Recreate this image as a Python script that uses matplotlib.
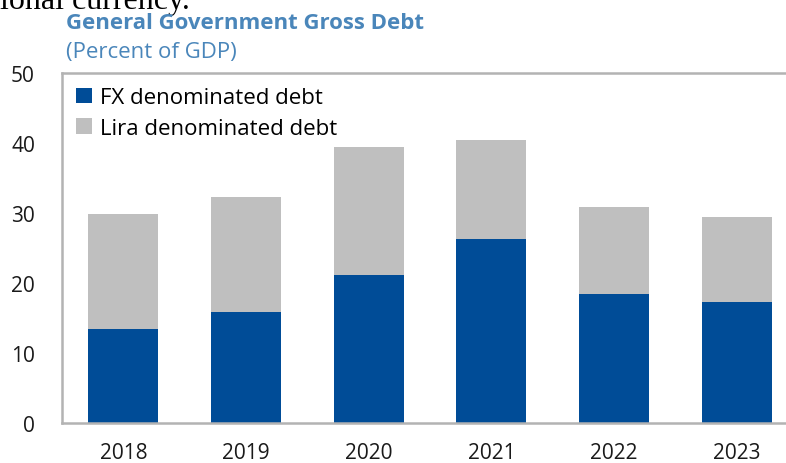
import matplotlib
matplotlib.use("Agg")
import matplotlib.pyplot as plt
import numpy as np

years = ["2018", "2019", "2020", "2021", "2022", "2023"]
fx_debt = [13.4, 15.9, 21.1, 26.3, 18.5, 17.3]
total_debt = [29.9, 32.3, 39.5, 40.4, 30.8, 29.5]
lira_debt = [t - f for t, f in zip(total_debt, fx_debt)]
yticks = [0, 10, 20, 30, 40, 50]

BLUE = "#004C97"
GREY = "#BFBFBF"
TITLE_C = "#4A86BA"
FONT = "Open Sans"

W, H = 786, 464
fig = plt.figure(figsize=(W / 100, H / 100), dpi=100)
ax = fig.add_axes([62 / W, (H - 424) / H, (798 - 62) / W, (424 - 74) / H])

x = np.arange(len(years))
ax.bar(x, fx_debt, width=0.57, color=BLUE, label="FX denominated debt", zorder=2)
ax.bar(x, lira_debt, bottom=fx_debt, width=0.57, color=GREY,
       label="Lira denominated debt", zorder=2)

ax.set_xlim(-0.5, 5.5)
ax.set_ylim(0, 50)
ax.set_yticks(yticks)
ax.set_xticks(x)
ax.set_xticklabels(years)
for s in ["left", "top", "bottom", "right"]:
    ax.spines[s].set_color("#B3B3B3")
    ax.spines[s].set_linewidth(1.8)
ax.tick_params(length=0, labelsize=15, colors="#1a1a1a")
ax.tick_params(axis="y", pad=19.5)
ax.tick_params(axis="x", pad=14)
for lbl in ax.get_xticklabels() + ax.get_yticklabels():
    lbl.set_fontfamily(FONT)

leg = ax.legend(loc="upper left", bbox_to_anchor=(0.0, 1.0), frameon=False,
                prop={"family": FONT, "size": 16}, handlelength=0.7,
                handleheight=0.7, handletextpad=0.35, labelspacing=0.42,
                borderaxespad=0.25)

fig.text(0, 1 - 9 / H, "ional currency.", family="Liberation Serif",
         fontsize=23, color="black", va="baseline", ha="left")
fig.text(66 / W, 1 - 29 / H, "General Government Gross Debt", family=FONT,
         fontsize=16, fontweight="bold", color=TITLE_C, va="baseline")
fig.text(66 / W, 1 - 58 / H, "(Percent of GDP)", family=FONT,
         fontsize=16, color=TITLE_C, va="baseline")

fig.savefig("out.png", dpi=100)
